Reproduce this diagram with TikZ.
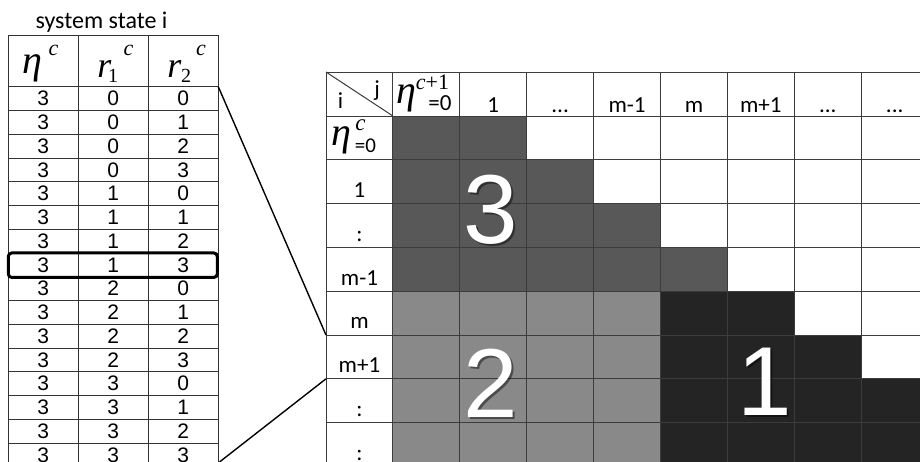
\documentclass[tikz,border=0pt]{standalone}
\usepackage{fontspec}
\setmainfont{Carlito}
\newfontfamily\arialf{Liberation Sans}
\newfontfamily\timesf{Liberation Serif}
\definecolor{dkc}{RGB}{88,88,88}
\definecolor{mdc}{RGB}{137,137,137}
\definecolor{bkc}{RGB}{36,36,36}
\definecolor{gridc}{RGB}{60,60,60}
\definecolor{ltgrid}{RGB}{50,50,50}
\tikzset{
  lbl/.style={anchor=base, inner sep=0pt, font=\fontsize{23}{23}\selectfont},
  dig/.style={anchor=center, inner sep=0pt, font=\arialf\fontsize{21}{21}\selectfont},
  bignum/.style={anchor=center, inner sep=0pt, text=white, font=\arialf\fontsize{98}{98}\selectfont},
  bigshadow/.style={bignum, text=black, opacity=0.45},
  conn/.style={draw=black, line width=1.4pt},
  gridline/.style={draw=gridc, line width=1pt},
  mth/.style={anchor=base, inner sep=0pt}
}
\begin{document}
\begin{tikzpicture}[x=1pt,y=-1pt]
\useasboundingbox (0,0) rectangle (920,461);
\fill[white] (0,0) rectangle (920,461);
\begin{scope}
\clip (0,0) rectangle (920,461);
% ---------- right table fills ----------
\fill[dkc] (392.9,116) rectangle (526.7,159.8);
\fill[dkc] (392.9,159.8) rectangle (593.6,203.6);
\fill[dkc] (392.9,203.6) rectangle (660.5,247.4);
\fill[dkc] (392.9,247.4) rectangle (727.4,291.2);
\fill[mdc] (392.9,291.2) rectangle (660.5,466.4);
\fill[bkc] (660.5,291.2) rectangle (794.3,335);
\fill[bkc] (660.5,335) rectangle (861.2,378.8);
\fill[bkc] (660.5,378.8) rectangle (928.1,466.4);
% grid
\foreach \i in {0,...,9} {
  \draw[gridline] ({326+66.9*\i},72) -- ({326+66.9*\i},470);
}
\foreach \yy in {72,116,159.8,203.6,247.4,291.2,335,378.8,422.6,466.4} {
  \draw[gridline] (326,\yy) -- (930,\yy);
}
% corner cell
\coordinate (cTL) at (326,72);
\coordinate (cBR) at (392.9,116);
\draw[gridline] (cTL) -- (cBR);
\node[lbl] (ci) at (340.5,108) {i};
\node[lbl] (cj) at (377,96) {j};
% column header c1
\node[mth] (h1eta) at (406,103) {\timesf\itshape\fontsize{40}{40}\selectfont η};
\node[mth] (h1sup) at (432.5,89) {\timesf\fontsize{22}{22}\selectfont\textit{c}+1};
\node[lbl] (h1eq) at (440,110) {=0};
% column headers
\node[lbl] (h2) at (493.25,112) {1};
\node[lbl] (h3) at (560.15,112) {...};
\node[lbl] (h4) at (627.05,112) {m-1};
\node[lbl] (h5) at (693.95,112) {m};
\node[lbl] (h6) at (760.85,112) {m+1};
\node[lbl] (h7) at (827.75,112) {...};
\node[lbl] (h8) at (894.65,112) {...};
% row header 0
\node[mth] (r0eta) at (341,145) {\timesf\itshape\fontsize{40}{40}\selectfont η};
\node[mth] (r0sup) at (360.5,130) {\timesf\itshape\fontsize{23}{23}\selectfont c};
\node[lbl, font=\fontsize{21}{21}\selectfont] (r0eq) at (365.5,152) {=0};
% row headers
\node[lbl] (r1) at (359.45,197.5) {1};
\node[lbl] (r2) at (359.45,241.5) {:};
\node[lbl] (r3) at (359.45,285) {m-1};
\node[lbl] (r4) at (359.45,328.5) {m};
\node[lbl] (r5) at (359.45,372.5) {m+1};
\node[lbl] (r6) at (359.45,416.5) {:};
\node[lbl] (r7) at (359.45,460.5) {:};
% big numbers
\node[bigshadow] at (492.5,212) {3};
\node[bignum] (n3) at (490.5,210) {3};
\node[bigshadow] at (493,385) {2};
\node[bignum] (n2) at (491,383) {2};
\node[bigshadow] at (767,384) {1};
\node[bignum] (n1) at (765,382) {1};
% ---------- left table ----------
\node[lbl, font=\fontsize{24}{24}\selectfont] (title) at (101.5,28) {system state i};
\foreach \xx in {8.3,78.3,148.3,218.3} {
  \draw[draw=ltgrid, line width=0.9pt] (\xx,35) -- (\xx,470);
}
\draw[draw=ltgrid, line width=0.9pt] (8.3,35) -- (218.3,35);
\foreach \k in {0,...,16} {
  \draw[draw=ltgrid, line width=0.9pt] (8.3,{86.7+23.75*\k}) -- (218.3,{86.7+23.75*\k});
}
\node[mth] (lEta) at (32,73) {\timesf\itshape\fontsize{40}{40}\selectfont η};
\node[mth] (lEtaC) at (53.5,55) {\timesf\itshape\fontsize{22}{22}\selectfont c};
\node[mth] (lR1) at (104.5,77) {\timesf\itshape\fontsize{36}{36}\selectfont r};
\node[mth] (lR1s) at (113,82) {\timesf\fontsize{20}{20}\selectfont 1};
\node[mth] (lR1c) at (128.5,55) {\timesf\itshape\fontsize{22}{22}\selectfont c};
\node[mth] (lR2) at (174.5,77) {\timesf\itshape\fontsize{36}{36}\selectfont r};
\node[mth] (lR2s) at (186,82) {\timesf\fontsize{20}{20}\selectfont 2};
\node[mth] (lR2c) at (201,55) {\timesf\itshape\fontsize{22}{22}\selectfont c};
\foreach \k in {0,...,15} {
  \pgfmathtruncatemacro{\aa}{int(\k/4)}
  \pgfmathtruncatemacro{\bb}{mod(\k,4)}
  \node[dig] (la\k) at (43.3,{98.6+23.75*\k}) {3};
  \node[dig] (lb\k) at (113.3,{98.6+23.75*\k}) {\aa};
  \node[dig] (lc\k) at (183.3,{98.6+23.75*\k}) {\bb};
}
\node[draw=black, line width=3pt, rounded corners=3.5pt, minimum width=209pt, minimum height=24.5pt, inner sep=0pt] (sel) at (112.8,265.2) {};
% connectors
\coordinate (ltA) at (218.3,86.7);
\coordinate (rtA) at (326,335);
\coordinate (ltB) at (219.5,462);
\coordinate (rtB) at (326,378.8);
\draw[conn] (ltA) -- (rtA);
\draw[conn] (ltB) -- (rtB);
\end{scope}
\end{tikzpicture}
\end{document}
